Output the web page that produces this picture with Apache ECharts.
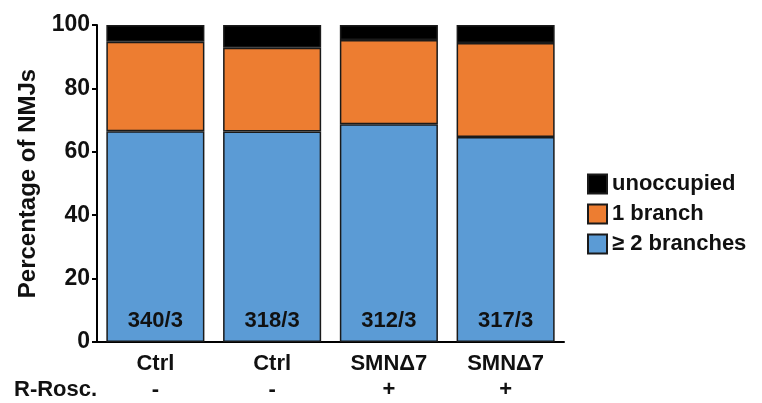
<!DOCTYPE html>
<html>
<head>
<meta charset="utf-8">
<script src="https://cdn.jsdelivr.net/npm/echarts@6/dist/echarts.min.js"></script>
<style>
	html, body { margin: 0; padding: 0; background: #fff; }
	#chart { width: 762px; height: 403px; }
</style>
</head>
<body>
<div id="chart"></div>
<script>
// data
const groups = ['Ctrl', 'Ctrl', 'SMNΔ7', 'SMNΔ7'];
const treatment = ['-', '-', '+', '+'];
const counts = ['340/3', '318/3', '312/3', '317/3'];
const twoBranches = [66.5, 66.4, 68.7, 64.7];
const oneBranch = [28.2, 26.4, 26.6, 29.6];
const unoccupied = [5.3, 7.2, 4.7, 5.7];
const yTicks = [0, 20, 40, 60, 80, 100];

const font = 'Liberation Sans, Arial, sans-serif';
const colors = {
	two: '#5B9BD5',
	one: '#ED7D31',
	none: '#000000'
};

const chart = echarts.init(document.getElementById('chart'));

const barStyle = (color) => ({
	color: color,
	borderColor: '#1a1a1a',
	borderWidth: 1.5
});

chart.setOption({
	animation: false,
	grid: { left: 97, right: 198, top: 25, bottom: 59 },
	legend: {
		orient: 'vertical',
		left: 582,
		top: 168,
		itemWidth: 19,
		itemHeight: 19,
		itemGap: 8,
		icon: 'rect',
		data: ['unoccupied', '1 branch', '≥ 2 branches'],
		textStyle: { fontFamily: font, fontWeight: 'bold', fontSize: 22, lineHeight: 20, color: '#111' }
	},
	xAxis: {
		type: 'category',
		data: groups.map((g, i) => `${g}\n${treatment[i]}`),
		axisLine: { lineStyle: { color: '#000', width: 2 } },
		axisTick: { show: false },
		axisLabel: {
			fontFamily: font, fontWeight: 'bold', fontSize: 22, color: '#111',
			lineHeight: 26, margin: 9
		}
	},
	yAxis: {
		type: 'value',
		min: 0,
		max: 100,
		interval: 20,
		name: 'Percentage of NMJs',
		nameLocation: 'middle',
		nameGap: 41,
		nameTextStyle: { fontFamily: font, fontWeight: 'bold', fontSize: 24, color: '#111' },
		splitLine: { show: false },
		axisLine: { show: true, lineStyle: { color: '#000', width: 2 } },
		axisTick: { show: true, length: 5, lineStyle: { color: '#000', width: 2 } },
		axisLabel: {
			fontFamily: font, fontWeight: 'bold', fontSize: 23, color: '#111', margin: 7,
			formatter: v => yTicks.includes(v) ? String(v) : ''
		}
	},
	graphic: [{
		type: 'text',
		left: 14,
		top: 379,
		style: { text: 'R-Rosc.', font: `bold 22px ${font}`, fill: '#111' }
	}],
	series: [
		{
			name: '≥ 2 branches',
			type: 'bar',
			stack: 'total',
			barWidth: '84%',
			data: twoBranches,
			itemStyle: barStyle(colors.two),
			label: {
				show: true,
				position: 'insideBottom',
				distance: 10,
				formatter: p => counts[p.dataIndex],
				fontFamily: font, fontWeight: 'bold', fontSize: 22, color: '#111'
			}
		},
		{
			name: '1 branch',
			type: 'bar',
			stack: 'total',
			data: oneBranch,
			itemStyle: barStyle(colors.one)
		},
		{
			name: 'unoccupied',
			type: 'bar',
			stack: 'total',
			data: unoccupied,
			itemStyle: barStyle(colors.none)
		}
	]
});
</script>
</body>
</html>
